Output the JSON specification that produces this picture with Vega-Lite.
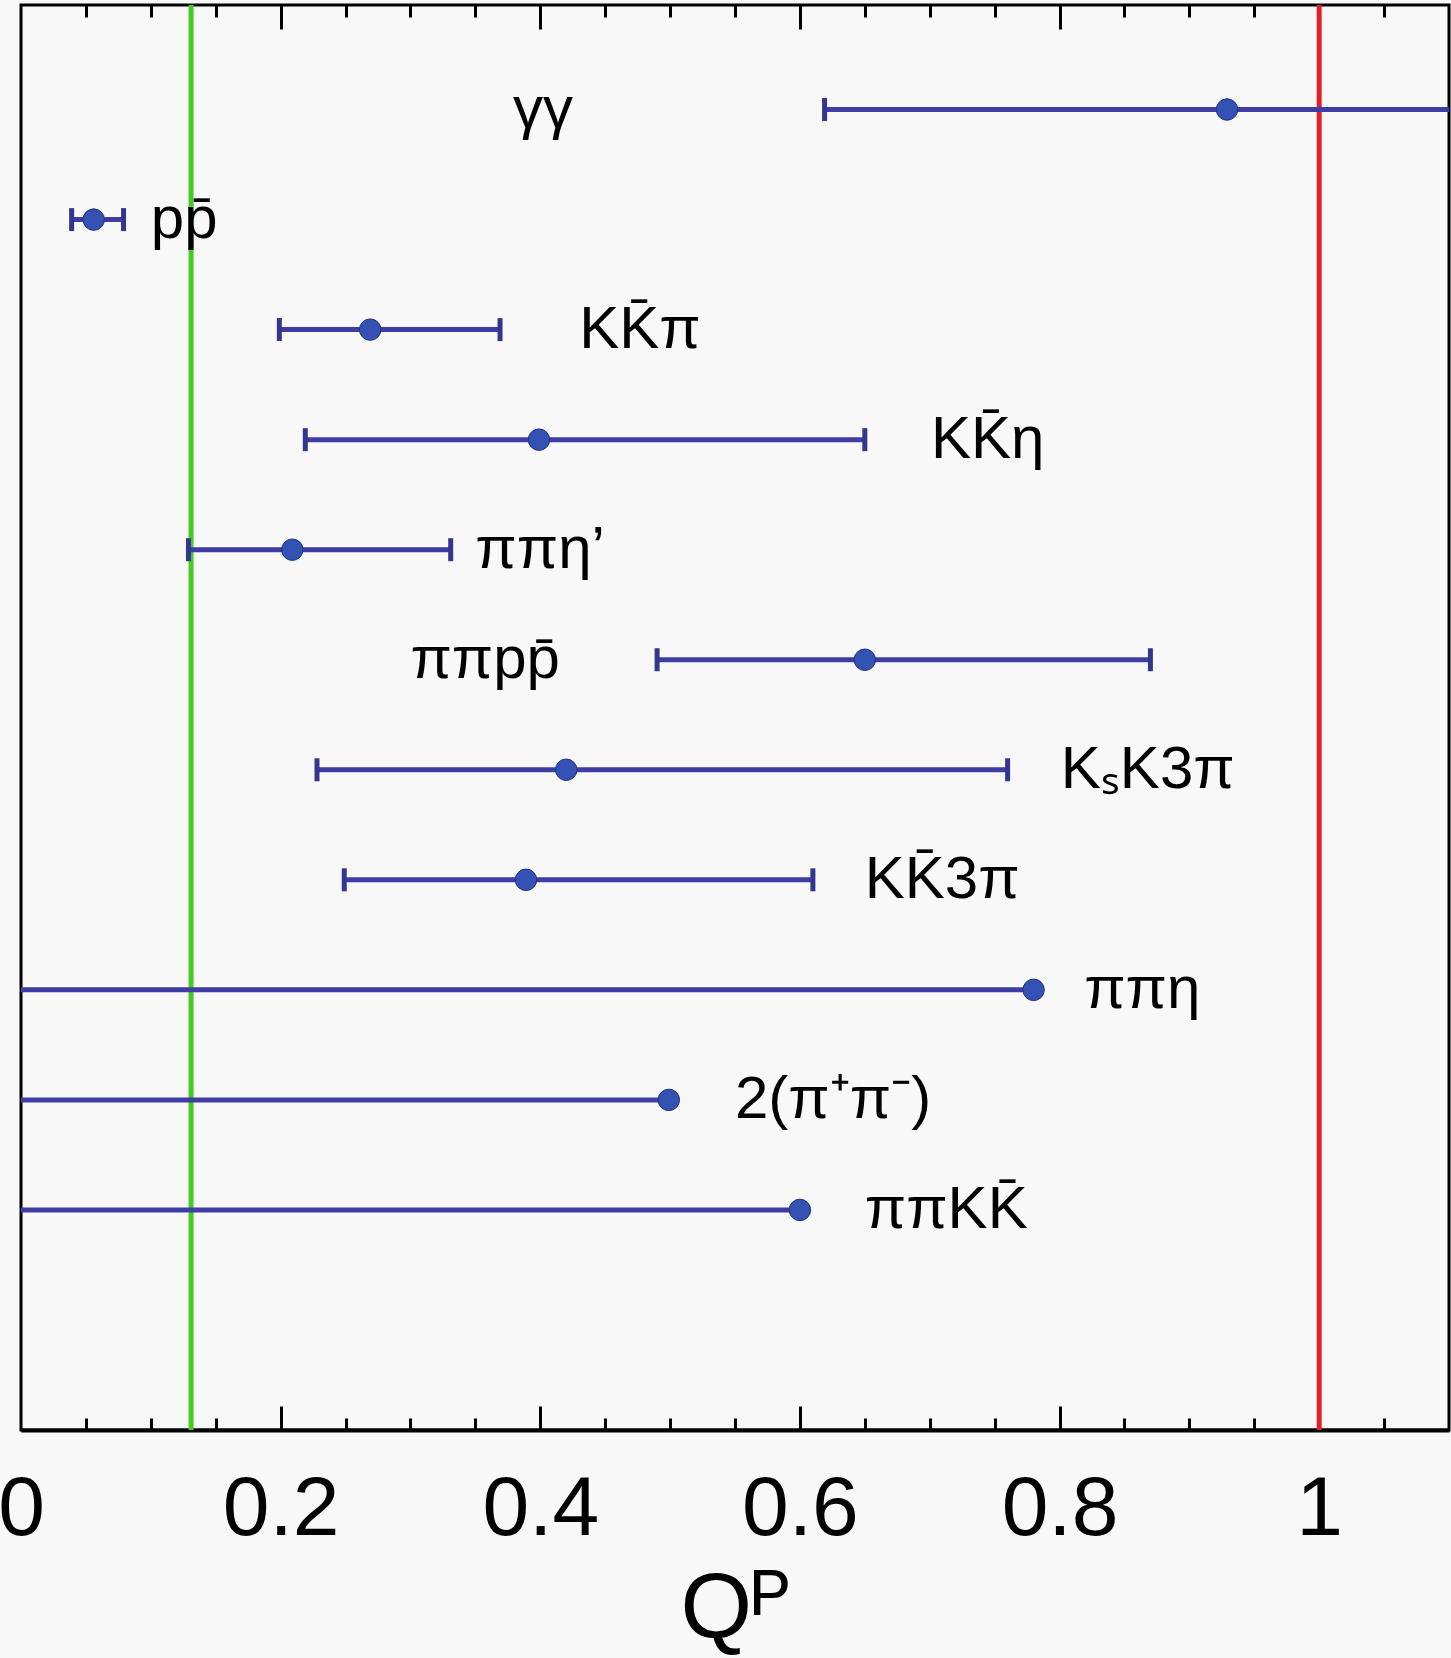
{
  "$schema": "https://vega.github.io/schema/vega-lite/v6.json",
  "description": "Q^P per decay channel with error bars and two reference lines.",
  "width": 1428,
  "height": 1425,
  "autosize": "none",
  "padding": {"left": 21, "top": 5, "right": 2, "bottom": 228},
  "background": "#f8f8f8",
  "config": {
    "view": {"stroke": "#000000", "strokeWidth": 3, "fill": "#f8f8f8"},
    "font": "Liberation Sans"
  },
  "datasets": {
    "channels": [
      {"channel": "γγ", "row": 1, "q": 0.929, "lo": 0.619, "hi": 1.24, "one_sided": false, "label_x": 0.379},
      {"channel": "pp̄", "row": 2, "q": 0.056, "lo": 0.039, "hi": 0.079, "one_sided": false, "label_x": 0.1},
      {"channel": "KK̄π", "row": 3, "q": 0.269, "lo": 0.199, "hi": 0.369, "one_sided": false, "label_x": 0.43},
      {"channel": "KK̄η", "row": 4, "q": 0.399, "lo": 0.219, "hi": 0.65, "one_sided": false, "label_x": 0.701},
      {"channel": "ππη’", "row": 5, "q": 0.209, "lo": 0.129, "hi": 0.331, "one_sided": false, "label_x": 0.35},
      {"channel": "ππpp̄", "row": 6, "q": 0.65, "lo": 0.49, "hi": 0.87, "one_sided": false, "label_x": 0.3},
      {"channel": "KₛK3π", "row": 7, "q": 0.42, "lo": 0.228, "hi": 0.76, "one_sided": false, "label_x": 0.801},
      {"channel": "KK̄3π", "row": 8, "q": 0.389, "lo": 0.249, "hi": 0.61, "one_sided": false, "label_x": 0.65},
      {"channel": "ππη", "row": 9, "q": 0.78, "lo": 0, "hi": 0.78, "one_sided": true, "label_x": 0.819},
      {"channel": "2(π⁺π⁻)", "row": 10, "q": 0.499, "lo": 0, "hi": 0.499, "one_sided": true, "label_x": 0.55},
      {"channel": "ππKK̄", "row": 11, "q": 0.6, "lo": 0, "hi": 0.6, "one_sided": true, "label_x": 0.65}
    ],
    "refs": [
      {"line": "lower", "q": 0.131},
      {"line": "upper", "q": 1.0}
    ]
  },
  "layer": [
    {
      "data": {"name": "refs"},
      "mark": {"type": "rule", "strokeWidth": 5},
      "encoding": {
        "x": {
          "field": "q", "type": "quantitative",
          "scale": {"domain": [0, 1.1], "nice": false, "zero": false},
          "axis": {
            "orient": "bottom", "values": [0, 0.2, 0.4, 0.6, 0.8, 1], "format": "~g",
            "ticks": false, "grid": false,
            "domain": true, "domainColor": "#000000", "domainWidth": 4,
            "labelFont": "Liberation Sans", "labelFontSize": 84, "labelColor": "#000000",
            "labelPadding": 38, "labelFlush": false,
            "title": "Qᴾ", "titleFont": "Liberation Sans", "titleFontSize": 92,
            "titleFontWeight": "normal", "titleColor": "#000000", "titlePadding": 12
          }
        },
        "color": {
          "field": "line", "type": "nominal",
          "scale": {"domain": ["lower", "upper"], "range": ["#44cc22", "#e2202c"]},
          "legend": null
        }
      }
    },
    {
      "data": {"name": "channels"},
      "mark": {"type": "rule", "strokeWidth": 5, "color": "#3d3da3", "clip": true},
      "encoding": {
        "x": {
          "field": "lo", "type": "quantitative",
          "axis": {
            "orient": "bottom", "values": [0.2, 0.4, 0.6, 0.8, 1],
            "labels": false, "domain": false, "grid": false, "title": null,
            "ticks": true, "tickSize": -24, "tickWidth": 3, "tickColor": "#000000"
          }
        },
        "x2": {"field": "hi"},
        "y": {
          "field": "row", "type": "quantitative",
          "scale": {"domain": [0.05, 13], "reverse": true, "nice": false, "zero": false},
          "axis": null
        }
      }
    },
    {
      "data": {"name": "channels"},
      "transform": [{"filter": "!datum.one_sided"}],
      "mark": {"type": "tick", "orient": "vertical", "size": 23, "thickness": 5, "opacity": 1, "color": "#353590", "clip": true},
      "encoding": {
        "x": {
          "field": "lo", "type": "quantitative",
          "axis": {
            "orient": "bottom",
            "values": [0.05, 0.1, 0.15, 0.25, 0.3, 0.35, 0.45, 0.5, 0.55, 0.65, 0.7, 0.75, 0.85, 0.9, 0.95, 1.05],
            "labels": false, "domain": false, "grid": false, "title": null,
            "ticks": true, "tickSize": -12, "tickWidth": 3, "tickColor": "#000000"
          }
        },
        "y": {"field": "row", "type": "quantitative", "axis": null}
      }
    },
    {
      "data": {"name": "channels"},
      "transform": [{"filter": "!datum.one_sided"}],
      "mark": {"type": "tick", "orient": "vertical", "size": 23, "thickness": 5, "opacity": 1, "color": "#353590", "clip": true},
      "encoding": {
        "x": {
          "field": "hi", "type": "quantitative",
          "axis": {
            "orient": "top", "values": [0.2, 0.4, 0.6, 0.8, 1],
            "labels": false, "domain": false, "grid": false, "title": null,
            "ticks": true, "tickSize": -24, "tickWidth": 3, "tickColor": "#000000"
          }
        },
        "y": {"field": "row", "type": "quantitative", "axis": null}
      }
    },
    {
      "data": {"name": "channels"},
      "mark": {"type": "circle", "size": 460, "opacity": 1, "color": "#3452b4", "stroke": "#223080", "strokeWidth": 1},
      "encoding": {
        "x": {
          "field": "q", "type": "quantitative",
          "axis": {
            "orient": "top",
            "values": [0.05, 0.1, 0.15, 0.25, 0.3, 0.35, 0.45, 0.5, 0.55, 0.65, 0.7, 0.75, 0.85, 0.9, 0.95, 1.05],
            "labels": false, "domain": false, "grid": false, "title": null,
            "ticks": true, "tickSize": -12, "tickWidth": 3, "tickColor": "#000000"
          }
        },
        "y": {"field": "row", "type": "quantitative", "axis": null}
      }
    },
    {
      "data": {"name": "channels"},
      "mark": {"type": "text", "align": "left", "baseline": "middle", "fontSize": 60, "font": "Liberation Sans", "color": "#000000"},
      "encoding": {
        "x": {"field": "label_x", "type": "quantitative", "axis": null},
        "y": {"field": "row", "type": "quantitative", "axis": null},
        "text": {"field": "channel", "type": "nominal"}
      }
    }
  ],
  "resolve": {"axis": {"x": "independent", "y": "independent"}}
}
